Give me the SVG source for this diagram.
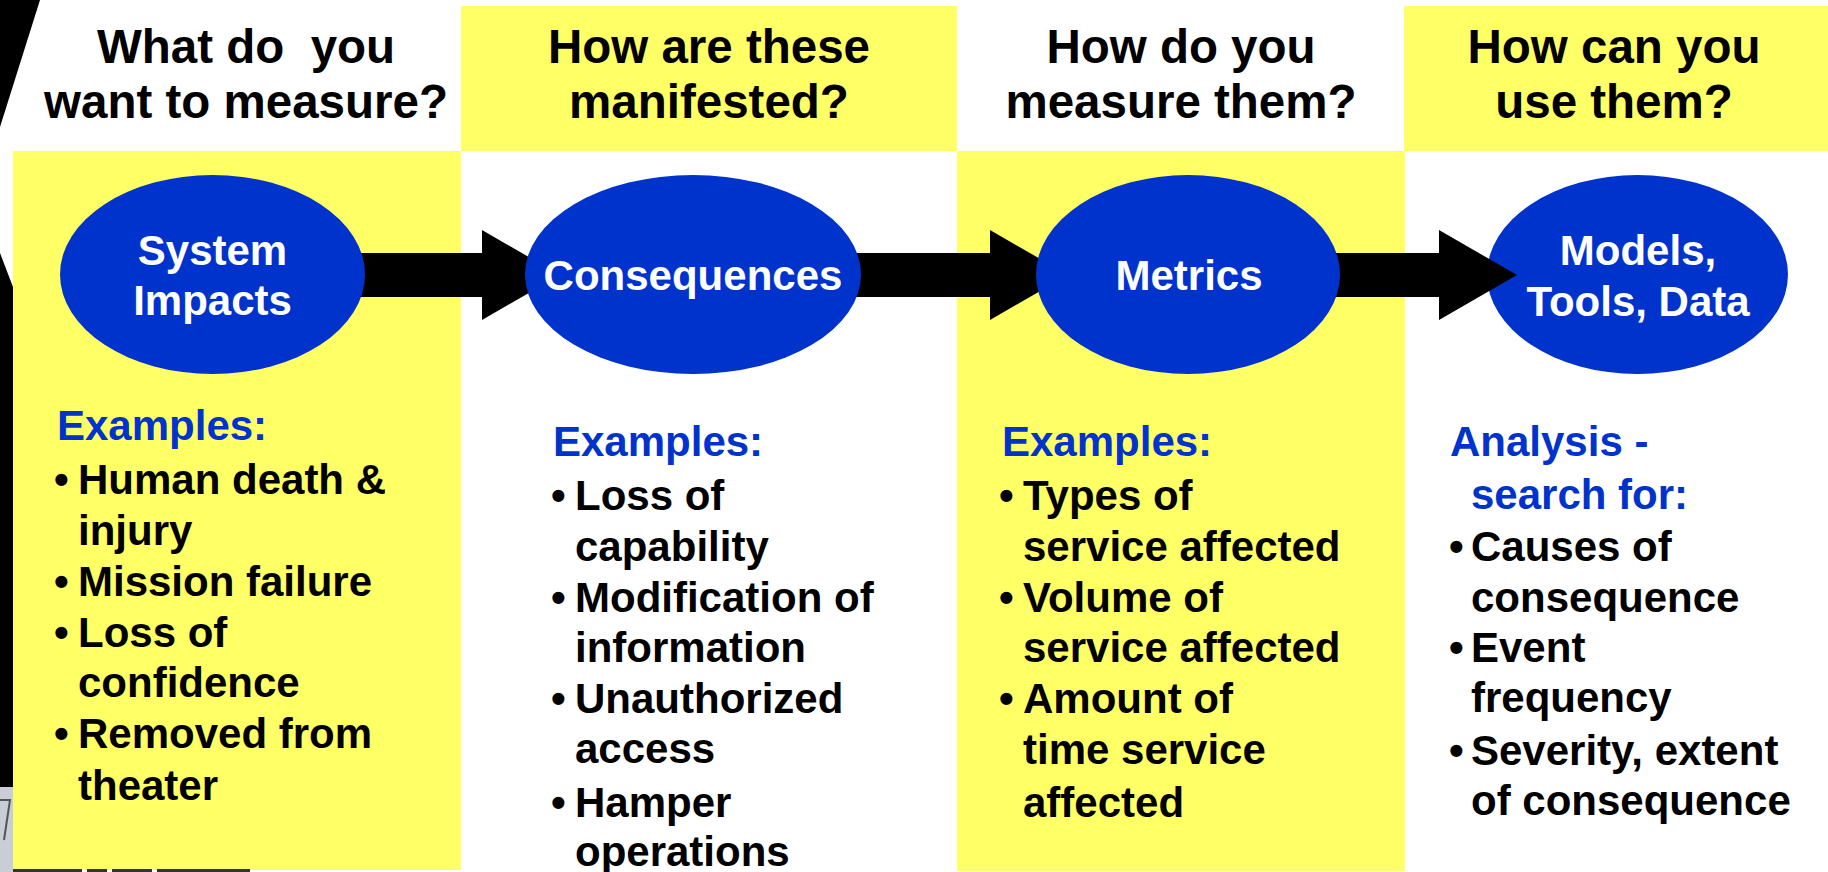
<svg xmlns="http://www.w3.org/2000/svg" width="1828" height="872" viewBox="0 0 1828 872">
  <style>
    .hdr { font-family: "Liberation Sans", Arial, sans-serif; font-weight: bold; font-size: 47.5px; fill: #000; text-anchor: middle; white-space: pre; }
    .lbl { font-family: "Liberation Sans", Arial, sans-serif; font-weight: bold; font-size: 42px; fill: #fff; text-anchor: middle; }
    .ex  { font-family: "Liberation Sans", Arial, sans-serif; font-weight: bold; font-size: 42px; fill: #0033cc; }
    .bl  { font-family: "Liberation Sans", Arial, sans-serif; font-weight: bold; font-size: 42px; fill: #000; }
    .node { fill: #0033cc; }
    .panel { fill: #ffff66; }
    .conn { fill: #000; }
  </style>

  <!-- page background and column panels -->
  <g id="background">
    <rect x="0" y="0" width="1828" height="872" fill="#fff"/>
    <rect class="panel" x="461" y="6" width="496" height="145"/>
    <rect class="panel" x="1404" y="6" width="424" height="145"/>
    <rect class="panel" x="13" y="151" width="448" height="719"/>
    <rect class="panel" x="957" y="151" width="448" height="720"/>
    <!-- black slivers along the left edge -->
    <polygon points="0,0 40,0 0,127" fill="#000"/>
    <polygon points="0,253 13,287 13,787 0,787" fill="#000"/>
    <!-- fragment of a graphic at the lower left -->
    <rect x="0" y="787" width="13" height="85" fill="#c9cdd6"/>
    <path d="M0,800 L10,800 L4,840" fill="none" stroke="#555" stroke-width="2"/>
    <g fill="#333">
      <rect x="13" y="869" width="69" height="3"/>
      <rect x="87" y="869" width="20" height="3"/>
      <rect x="112" y="869" width="40" height="3"/>
      <rect x="157" y="869" width="93" height="3"/>
    </g>
  </g>

  <!-- column 4: Models, Tools, Data (drawn below the arrow that points into it) -->
  <g id="node-models">
    <text class="hdr" x="1614" y="63">How can you</text>
    <text class="hdr" x="1614" y="118">use them?</text>
    <ellipse class="node" cx="1637.5" cy="274.5" rx="150.5" ry="99.5"/>
    <text class="lbl" x="1638" y="265">Models,</text>
    <text class="lbl" x="1638" y="316">Tools, Data</text>
    <text class="ex" x="1450" y="456">Analysis -</text>
    <text class="ex" x="1471" y="509">search for:</text>
    <text class="bl" x="1449" y="561">•</text>
    <text class="bl" x="1471" y="561">Causes of</text>
    <text class="bl" x="1471" y="612">consequence</text>
    <text class="bl" x="1449" y="662">•</text>
    <text class="bl" x="1471" y="662">Event</text>
    <text class="bl" x="1471" y="712">frequency</text>
    <text class="bl" x="1449" y="765">•</text>
    <text class="bl" x="1471" y="765">Severity, extent</text>
    <text class="bl" x="1471" y="815">of consequence</text>
  </g>

  <!-- block arrows between the stages -->
  <g id="connectors">
    <polygon class="conn" points="300,253 482,253 482,230 560,275 482,320 482,297 300,297"/>
    <polygon class="conn" points="800,253 990,253 990,230 1068,275 990,320 990,297 800,297"/>
    <polygon class="conn" points="1300,253 1439,253 1439,230 1517,275 1439,320 1439,297 1300,297"/>
  </g>

  <!-- column 1: System Impacts -->
  <g id="node-system-impacts">
    <text class="hdr" x="246" y="63">What do  you</text>
    <text class="hdr" x="246" y="118">want to measure?</text>
    <ellipse class="node" cx="212.5" cy="274.5" rx="152.5" ry="99.5"/>
    <text class="lbl" x="212.5" y="265">System</text>
    <text class="lbl" x="212.5" y="315">Impacts</text>
    <text class="ex" x="57" y="440">Examples:</text>
    <text class="bl" x="54" y="494">•</text>
    <text class="bl" x="78" y="494">Human death &amp;</text>
    <text class="bl" x="78" y="545">injury</text>
    <text class="bl" x="54" y="596">•</text>
    <text class="bl" x="78" y="596">Mission failure</text>
    <text class="bl" x="54" y="647">•</text>
    <text class="bl" x="78" y="647">Loss of</text>
    <text class="bl" x="78" y="697">confidence</text>
    <text class="bl" x="54" y="748">•</text>
    <text class="bl" x="78" y="748">Removed from</text>
    <text class="bl" x="78" y="800">theater</text>
  </g>

  <!-- column 2: Consequences -->
  <g id="node-consequences">
    <text class="hdr" x="709" y="63">How are these</text>
    <text class="hdr" x="709" y="118">manifested?</text>
    <ellipse class="node" cx="693" cy="274.5" rx="168" ry="99.5"/>
    <text class="lbl" x="693" y="290">Consequences</text>
    <text class="ex" x="553" y="456">Examples:</text>
    <text class="bl" x="551" y="510">•</text>
    <text class="bl" x="575" y="510">Loss of</text>
    <text class="bl" x="575" y="561">capability</text>
    <text class="bl" x="551" y="612">•</text>
    <text class="bl" x="575" y="612">Modification of</text>
    <text class="bl" x="575" y="662">information</text>
    <text class="bl" x="551" y="713">•</text>
    <text class="bl" x="575" y="713">Unauthorized</text>
    <text class="bl" x="575" y="763">access</text>
    <text class="bl" x="551" y="817">•</text>
    <text class="bl" x="575" y="817">Hamper</text>
    <text class="bl" x="575" y="866">operations</text>
  </g>

  <!-- column 3: Metrics -->
  <g id="node-metrics">
    <text class="hdr" x="1181" y="63">How do you</text>
    <text class="hdr" x="1181" y="118">measure them?</text>
    <ellipse class="node" cx="1188" cy="274.5" rx="152" ry="99.5"/>
    <text class="lbl" x="1189" y="290">Metrics</text>
    <text class="ex" x="1002" y="456">Examples:</text>
    <text class="bl" x="999" y="510">•</text>
    <text class="bl" x="1023" y="510">Types of</text>
    <text class="bl" x="1023" y="561">service affected</text>
    <text class="bl" x="999" y="612">•</text>
    <text class="bl" x="1023" y="612">Volume of</text>
    <text class="bl" x="1023" y="662">service affected</text>
    <text class="bl" x="999" y="713">•</text>
    <text class="bl" x="1023" y="713">Amount of</text>
    <text class="bl" x="1023" y="764">time service</text>
    <text class="bl" x="1023" y="817">affected</text>
  </g>
</svg>
